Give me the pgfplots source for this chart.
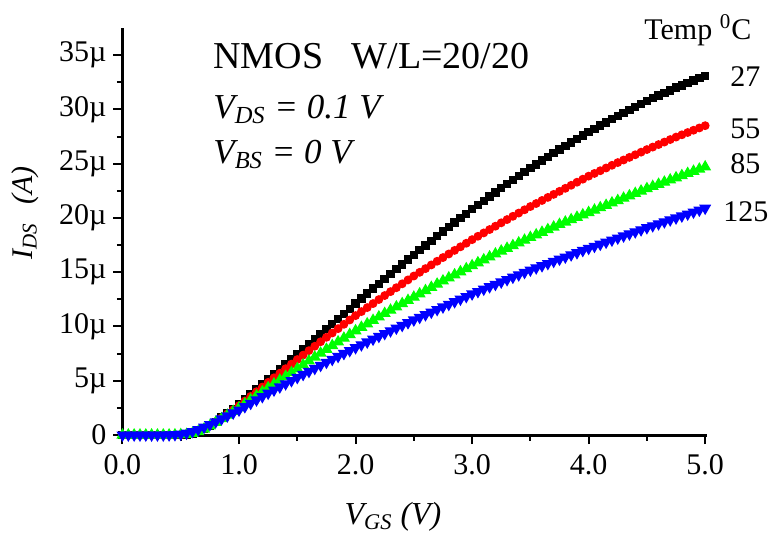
\documentclass[border=0pt]{standalone}
\usepackage{fontspec}
\setmainfont{Liberation Serif}
\usepackage{pgfplots}
\usepackage{pgfplotstable}
\pgfplotsset{compat=1.18}

% I_DS (uA) against V_GS (V), one column per temperature
\pgfplotstableread{
V    T27   T55   T85   T125
0.00 0 0 0 0
0.05 0 0 0 0
0.10 0 0 0 0
0.15 0 0 0 0
0.20 0 0 0 0
0.25 0 0 0 0
0.30 0 0 0 0
0.35 0 0 0 0
0.40 0 0 0 0.01
0.45 0 0 0.01 0.03
0.50 0.01 0.02 0.03 0.07
0.55 0.05 0.06 0.05 0.17
0.60 0.15 0.18 0.15 0.32
0.65 0.30 0.35 0.32 0.50
0.70 0.55 0.60 0.55 0.72
0.75 0.85 0.90 0.85 0.96
0.80 1.20 1.22 1.17 1.22
0.85 1.60 1.58 1.50 1.49
0.90 2.00 1.94 1.83 1.76
0.95 2.42 2.32 2.17 2.03
1.00 2.85 2.70 2.50 2.30
1.05 3.30 3.13 2.87 2.61
1.10 3.75 3.56 3.24 2.92
1.15 4.20 3.99 3.61 3.23
1.20 4.65 4.42 3.98 3.54
1.25 5.10 4.85 4.35 3.85
1.30 5.56 5.27 4.70 4.14
1.35 6.02 5.69 5.05 4.43
1.40 6.48 6.11 5.40 4.72
1.45 6.94 6.53 5.75 5.01
1.50 7.40 6.95 6.10 5.30
1.55 7.87 7.36 6.46 5.58
1.60 8.34 7.77 6.82 5.86
1.65 8.81 8.18 7.18 6.14
1.70 9.28 8.59 7.54 6.42
1.75 9.75 9.00 7.90 6.70
1.80 10.22 9.40 8.24 6.97
1.85 10.69 9.80 8.58 7.24
1.90 11.16 10.20 8.92 7.51
1.95 11.63 10.60 9.26 7.78
2.00 12.10 11.00 9.60 8.05
2.05 12.56 11.37 9.92 8.31
2.10 13.02 11.74 10.24 8.57
2.15 13.48 12.11 10.56 8.83
2.20 13.94 12.48 10.88 9.09
2.25 14.40 12.85 11.20 9.35
2.30 14.84 13.21 11.50 9.60
2.35 15.28 13.57 11.80 9.85
2.40 15.72 13.93 12.10 10.10
2.45 16.16 14.29 12.40 10.35
2.50 16.60 14.65 12.70 10.60
2.55 17.03 14.99 13.00 10.84
2.60 17.46 15.33 13.30 11.08
2.65 17.89 15.67 13.60 11.32
2.70 18.32 16.01 13.90 11.56
2.75 18.75 16.35 14.20 11.80
2.80 19.16 16.68 14.48 12.04
2.85 19.57 17.01 14.76 12.28
2.90 19.98 17.34 15.04 12.52
2.95 20.39 17.67 15.32 12.76
3.00 20.80 18.00 15.60 13.00
3.05 21.19 18.31 15.87 13.22
3.10 21.58 18.62 16.14 13.44
3.15 21.97 18.93 16.41 13.66
3.20 22.36 19.24 16.68 13.88
3.25 22.75 19.55 16.95 14.10
3.30 23.12 19.85 17.20 14.32
3.35 23.49 20.15 17.45 14.54
3.40 23.86 20.45 17.70 14.76
3.45 24.23 20.75 17.95 14.98
3.50 24.60 21.05 18.20 15.20
3.55 24.94 21.33 18.44 15.40
3.60 25.28 21.61 18.68 15.60
3.65 25.62 21.89 18.92 15.80
3.70 25.96 22.17 19.16 16.00
3.75 26.30 22.45 19.40 16.20
3.80 26.62 22.73 19.62 16.40
3.85 26.94 23.01 19.84 16.60
3.90 27.26 23.29 20.06 16.80
3.95 27.58 23.57 20.28 17.00
4.00 27.90 23.85 20.50 17.20
4.05 28.20 24.10 20.72 17.39
4.10 28.50 24.35 20.94 17.58
4.15 28.80 24.60 21.16 17.77
4.20 29.10 24.85 21.38 17.96
4.25 29.40 25.10 21.60 18.15
4.30 29.68 25.34 21.82 18.34
4.35 29.96 25.58 22.04 18.53
4.40 30.24 25.82 22.26 18.72
4.45 30.52 26.06 22.48 18.91
4.50 30.80 26.30 22.70 19.10
4.55 31.04 26.53 22.90 19.28
4.60 31.28 26.76 23.10 19.46
4.65 31.52 26.99 23.30 19.64
4.70 31.76 27.22 23.50 19.82
4.75 32.00 27.45 23.70 20.00
4.80 32.22 27.66 23.90 20.18
4.85 32.44 27.87 24.10 20.36
4.90 32.66 28.08 24.30 20.54
4.95 32.88 28.29 24.50 20.72
5.00 33.10 28.50 24.70 20.90
}\idvg

\definecolor{cblack}{RGB}{0,0,0}
\definecolor{cred}{RGB}{255,0,0}
\definecolor{cgreen}{RGB}{0,255,0}
\definecolor{cblue}{RGB}{0,0,255}

\begin{document}
\begin{tikzpicture}[x=1pt,y=1pt]
% fixed page: 768x532 px at 0.5pt per px, axis origin at px (122.5,435)
\useasboundingbox (-61.25,-48.5) rectangle (322.75,217.5);
\begin{axis}[
  at={(0,0)}, anchor=south west,
  scale only axis, width=292.5pt, height=203.5pt,
  xmin=0, xmax=5.02, ymin=0, ymax=37.5,
  axis x line=bottom, axis y line=left,
  axis line style={line width=1.5pt, -},
  clip=false,
  xtick={0,1,2,3,4,5},
  xticklabels={0.0,1.0,2.0,3.0,4.0,5.0},
  minor x tick num=1,
  ytick={0,5,10,15,20,25,30,35},
  yticklabels={0,5µ,10µ,15µ,20µ,25µ,30µ,35µ},
  minor y tick num=1,
  tick align=outside,
  major tick length=4.5pt, minor tick length=2.8pt,
  tick style={black, line width=1pt},
  tick label style={font=\fontsize{15}{18}\selectfont},
  xticklabel style={yshift=-1.5pt},
  every axis plot/.append style={line width=0.6pt},
]
\addplot[cblack, mark=square*, mark size=1.8pt] table[x=V, y=T27] {\idvg};
\addplot[cred, mark=*, mark size=1.9pt] table[x=V, y=T55] {\idvg};
\addplot[cgreen, mark=triangle*, mark size=2.9pt] table[x=V, y=T85] {\idvg};
\addplot[cblue, mark=triangle*, mark size=2.9pt, mark options={rotate=180}] table[x=V, y=T125] {\idvg};
\end{axis}

\node[anchor=base west, inner sep=0, font=\fontsize{19}{22}\selectfont] at (45.25,183.5) {NMOS\hspace{0.75em}W/L=20/20};
\node[anchor=base west, inner sep=0, font=\fontsize{17.5}{21}\selectfont\itshape] at (45.25,158.5) {V\textsubscript{DS} = 0.1 V};
\node[anchor=base west, inner sep=0, font=\fontsize{17.5}{21}\selectfont\itshape] at (45.25,136) {V\textsubscript{BS} = 0 V};

\node[anchor=base west, inner sep=0, font=\fontsize{15}{18}\selectfont] at (260.75,198) {Temp \textsuperscript{0}C};
\node[anchor=base west, inner sep=0, font=\fontsize{15}{18}\selectfont] at (303.75,174.25) {27};
\node[anchor=base west, inner sep=0, font=\fontsize{15}{18}\selectfont] at (303.75,148.5) {55};
\node[anchor=base west, inner sep=0, font=\fontsize{15}{18}\selectfont] at (303.75,130.7) {85};
\node[anchor=base west, inner sep=0, font=\fontsize{15}{18}\selectfont] at (300.25,107) {125};

\node[rotate=90, inner sep=0, font=\fontsize{15}{18}\selectfont\itshape] at (-48.75,111) {I\textsubscript{DS}\hspace{0.6em}(A)};
\node[inner sep=0, font=\fontsize{16}{19}\selectfont\itshape] at (135.25,-41) {V\textsubscript{GS} (V)};
\end{tikzpicture}
\end{document}
